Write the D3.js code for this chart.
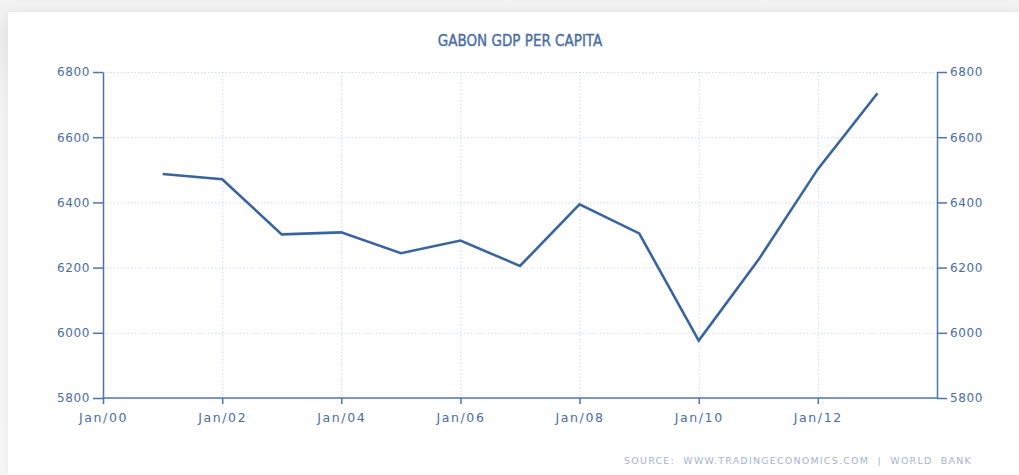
<!DOCTYPE html>
<html>
<head>
<meta charset="utf-8">
<script src="https://cdn.jsdelivr.net/npm/d3@7"></script>
<style>
  html, body { margin: 0; padding: 0; }
  body {
    width: 1019px; height: 475px; overflow: hidden;
    background: linear-gradient(#f2f2f2, #ebebeb 40px, #f4f4f4 120px, #f6f6f6);
  }
  .card {
    position: absolute; left: 8px; top: 12px; width: 1011px; height: 463px;
    background: #fff;
    box-shadow: 0 0 8px rgba(0,0,0,0.06);
  }
  svg { position: absolute; left: 0; top: 0; }
  text { font-family: "DejaVu Sans", sans-serif; fill: #4a6da3; }
  .title { font-family: "DejaVu Sans Condensed", "DejaVu Sans", sans-serif; font-size: 15px; fill: #4a6da3; stroke: #4a6da3; stroke-width: 0.35px; }
  .axis text { font-size: 12px; letter-spacing: 0.6px; }
  .xaxis text { font-size: 12.5px; letter-spacing: 1.6px; }
  .axis path, .axis line { stroke: #4f74a8; stroke-width: 1.5; }
  .grid line { stroke: #cfd9e8; stroke-dasharray: 1.5,2; stroke-width: 1; }
  .source { font-size: 9.5px; letter-spacing: 1.2px; fill: #a3b5cc; }
</style>
</head>
<body>
<div class="card"></div>
<div id="chart"></div>
<script>
// Gabon GDP per capita
var years = [2001, 2002, 2003, 2004, 2005, 2006, 2007, 2008, 2009, 2010, 2011, 2012, 2013];
var gdp = [6487, 6471, 6302, 6308, 6244, 6283, 6205, 6394, 6305, 5976, 6223, 6502, 6735];
var yTicks = [5800, 6000, 6200, 6400, 6600, 6800];
var xTickYears = [2000, 2002, 2004, 2006, 2008, 2010, 2012];

var margin = { top: 72, right: 82, bottom: 77, left: 103 };
var width = 1019 - margin.left - margin.right,
    height = 475 - margin.top - margin.bottom;

var data = years.map(function(y, i) {
    return { date: new Date(y, 0, 1), value: gdp[i] };
});

var svg = d3.select("#chart").append("svg")
    .attr("width", 1019)
    .attr("height", 475);

var g = svg.append("g")
    .attr("transform", "translate(" + margin.left + "," + margin.top + ")");

var x = d3.scaleTime()
    .domain([new Date(2000, 0, 1), new Date(2014, 0, 1)])
    .range([0, width]);
var y = d3.scaleLinear()
    .domain([5800, 6800])
    .range([height, 0]);

var xTicks = xTickYears.map(function(yr) { return new Date(yr, 0, 1); });

// dotted grid
var grid = g.append("g").attr("class", "grid");
grid.selectAll(".h").data(yTicks.slice(1)).enter().append("line")
    .attr("x1", 0).attr("x2", width)
    .attr("y1", function(d) { return y(d) + 0.5; })
    .attr("y2", function(d) { return y(d) + 0.5; });
grid.selectAll(".v").data(xTicks.slice(1)).enter().append("line")
    .attr("y1", 0).attr("y2", height)
    .attr("x1", function(d) { return x(d) + 0.5; })
    .attr("x2", function(d) { return x(d) + 0.5; });

// axes
var fmt = d3.timeFormat("Jan/%y");
g.append("g")
    .attr("class", "axis xaxis")
    .attr("transform", "translate(0," + height + ")")
    .call(d3.axisBottom(x).tickValues(xTicks).tickFormat(fmt).tickSize(6).tickSizeOuter(0).tickPadding(9))
    .call(function(a) { a.select(".domain").attr("d", "M0,0H" + width); });

g.append("g")
    .attr("class", "axis")
    .call(d3.axisLeft(y).tickValues(yTicks).tickFormat(d3.format("d")).tickSize(10).tickSizeOuter(0).tickPadding(3));

g.append("g")
    .attr("class", "axis")
    .attr("transform", "translate(" + width + ",0)")
    .call(d3.axisRight(y).tickValues(yTicks).tickFormat(d3.format("d")).tickSize(10).tickSizeOuter(0).tickPadding(3));

g.selectAll(".axis text").attr("fill", "#4a6da3");

// line
var line = d3.line()
    .x(function(d) { return x(d.date); })
    .y(function(d) { return y(d.value); });

g.append("path")
    .datum(data)
    .attr("fill", "none")
    .attr("stroke", "#3a64a0")
    .attr("stroke-width", 2.6)
    .attr("stroke-linejoin", "miter")
    .attr("d", line);

// title
svg.append("text")
    .attr("class", "title")
    .attr("x", margin.left + width / 2)
    .attr("y", 46)
    .attr("text-anchor", "middle")
    .text("GABON GDP PER CAPITA");

// source
svg.append("text")
    .attr("class", "source")
    .attr("x", 972)
    .attr("y", 464)
    .attr("text-anchor", "end")
    .text("SOURCE:  WWW.TRADINGECONOMICS.COM  |  WORLD  BANK")
    .style("white-space", "pre");
</script>
</body>
</html>
